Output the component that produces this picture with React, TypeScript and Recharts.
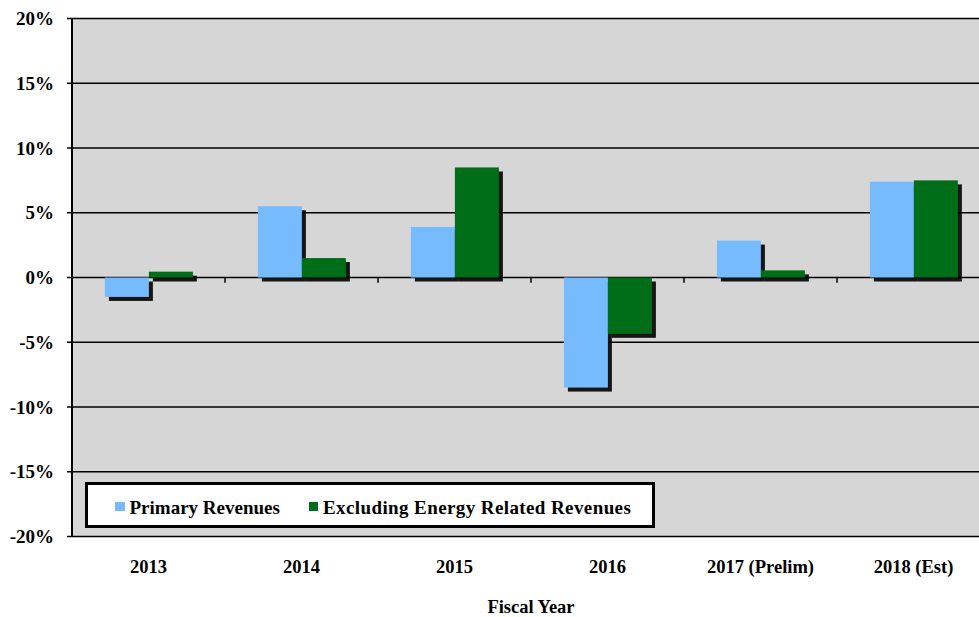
import React from 'react';
import { BarChart, Bar, XAxis, YAxis, CartesianGrid, ReferenceLine } from 'recharts';

const categories = ['2013', '2014', '2015', '2016', '2017 (Prelim)', '2018 (Est)'];
const primaryRevenues = [-1.5, 5.5, 3.9, -8.5, 2.85, 7.4];
const excludingEnergy = [0.45, 1.5, 8.5, -4.35, 0.55, 7.5];
const yTicks = [-20, -15, -10, -5, 0, 5, 10, 15, 20];
const boundaries = [1, 2, 3, 4, 5];

const data = categories.map((c, i) => ({
  name: c,
  primary: primaryRevenues[i],
  excl: excludingEnergy[i],
  idx: i + 0.5,
}));

const FONT = '"Liberation Serif", "Times New Roman", serif';
const BLUE = '#77bbff';
const GREEN = '#006e18';

const ShadowBar = (props: any) => {
  const { x, y, width, height, fill } = props;
  if (width == null || height == null) return null;
  const top = Math.min(y, y + height);
  const h = Math.abs(height);
  return (
    <g>
      <rect x={x + 4} y={top + 4} width={width} height={h} fill="#000" opacity={0.9} />
      <rect x={x} y={top} width={width} height={h} fill={fill} />
    </g>
  );
};

const LegendBox = () => (
  <div
    style={{
      position: 'absolute',
      left: 85,
      top: 482,
      width: 564,
      height: 40,
      background: '#fff',
      border: '3px solid #000',
      fontFamily: FONT,
      fontWeight: 'bold',
      fontSize: 19,
      boxSizing: 'content-box',
      whiteSpace: 'nowrap',
    }}
  >
    <span style={{ position: 'absolute', left: 27, top: 16.5, width: 9.5, height: 9.5, background: BLUE }} />
    <span style={{ position: 'absolute', left: 41.5, top: 11.5, lineHeight: '22px' }}>Primary Revenues</span>
    <span style={{ position: 'absolute', left: 220.5, top: 16.5, width: 9.5, height: 9.5, background: GREEN }} />
    <span style={{ position: 'absolute', left: 235, top: 11.5, lineHeight: '22px', letterSpacing: 0.4 }}>
      Excluding Energy Related Revenues
    </span>
  </div>
);

export default function App() {
  return (
    <div style={{ position: 'absolute', left: 0, top: 0, width: 979, height: 617, background: '#fff', overflow: 'hidden' }}>
      <BarChart
        width={990}
        height={617}
        data={data}
        margin={{ top: 18.5, right: 0, left: 0, bottom: 0 }}
        barCategoryGap="21.5%"
        barGap={0}
      >
        <CartesianGrid vertical={false} stroke="#000" strokeWidth={1.5} fill="#d6d6d6" fillOpacity={1} />
        <XAxis
          dataKey="name"
          xAxisId="cat"
          height={80.5}
          tickLine={false}
          axisLine={false}
          tickMargin={17}
          tick={{ fontFamily: FONT, fontWeight: 'bold', fontSize: 18.5, fill: '#000' }}
          interval={0}
          label={{
            value: 'Fiscal Year',
            position: 'insideBottom',
            offset: 4,
            style: { fontFamily: FONT, fontWeight: 'bold', fontSize: 18.5, fill: '#000' },
          }}
        />
        <XAxis xAxisId="num" type="number" dataKey="idx" domain={[0, 6]} hide />
        <YAxis
          width={72}
          domain={[-20, 20]}
          ticks={yTicks}
          interval={0}
          tickFormatter={(v: number) => `${v}%`}
          axisLine={{ stroke: '#000', strokeWidth: 2 }}
          tickLine={{ stroke: '#000', strokeWidth: 1.5 }}
          tickSize={5}
          tickMargin={13}
          tick={{ fontFamily: FONT, fontWeight: 'bold', fontSize: 19, fill: '#000' }}
        />
        <Bar xAxisId="cat" dataKey="primary" name="Primary Revenues" fill={BLUE} shape={<ShadowBar />} isAnimationActive={false} />
        <Bar xAxisId="cat" dataKey="excl" name="Excluding Energy Related Revenues" fill={GREEN} shape={<ShadowBar />} isAnimationActive={false} />
        {boundaries.map((b) => (
          <ReferenceLine
            key={b}
            xAxisId="num"
            segment={[{ x: b, y: 0 }, { x: b, y: -0.4 }]}
            stroke="#000"
            strokeWidth={1.5}
          />
        ))}
      </BarChart>
      <LegendBox />
    </div>
  );
}
